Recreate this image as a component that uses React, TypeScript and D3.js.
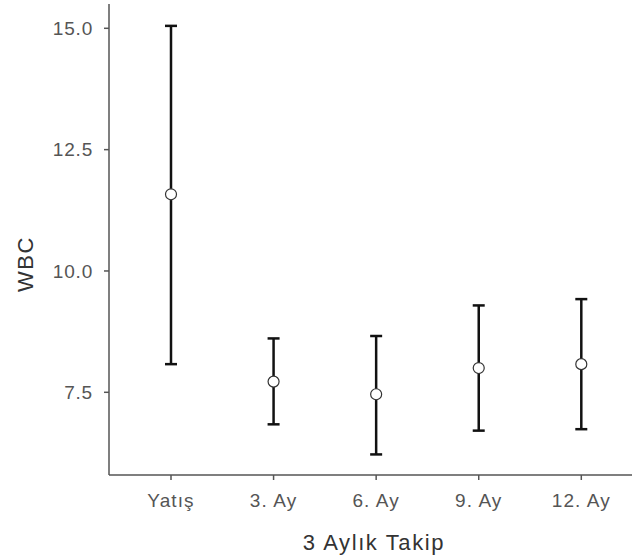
import React from "react";
import * as d3 from "d3";

const categories = ["Yatış", "3. Ay", "6. Ay", "9. Ay", "12. Ay"];
const means = [11.58, 7.72, 7.46, 8.0, 8.08];
const lowers = [8.08, 6.84, 6.22, 6.71, 6.74];
const uppers = [15.05, 8.61, 8.66, 9.29, 9.42];
const yTicks = [7.5, 10.0, 12.5, 15.0];

const W = 632;
const H = 555;
const left = 109;
const bottom = 475;
const top = 4;

export default function App() {
  const y = d3.scaleLinear().domain([7.5, 15.0]).range([392.3, 28.3]);
  const x = d3
    .scalePoint<string>()
    .domain(categories)
    .range([171, 581.3]);
  const font = "Arial, 'Liberation Sans', sans-serif";
  const cap = 6;
  return (
    <svg
      width={W}
      height={H}
      style={{ position: "absolute", left: 0, top: 0, background: "#fff" }}
      fontFamily={font}
    >
      {/* axes */}
      <line x1={left} x2={left} y1={top} y2={bottom} stroke="#555" strokeWidth={1.5} />
      <line x1={left} x2={W} y1={bottom} y2={bottom} stroke="#555" strokeWidth={1.5} />
      {yTicks.map((t) => (
        <g key={t}>
          <line x1={left - 5} x2={left} y1={y(t)} y2={y(t)} stroke="#555" strokeWidth={1.5} />
          <text x={left - 16} y={y(t)} dy="0.36em" textAnchor="end" fontSize={19} letterSpacing={0.8} fill="#555">
            {t.toFixed(1)}
          </text>
        </g>
      ))}
      {categories.map((c) => (
        <g key={c}>
          <line x1={x(c)} x2={x(c)} y1={bottom} y2={bottom + 5} stroke="#555" strokeWidth={1.5} />
          <text x={x(c)} y={506.5} textAnchor="middle" fontSize={19} letterSpacing={1.1} fill="#555">
            {c}
          </text>
        </g>
      ))}
      <text x={374} y={550} textAnchor="middle" fontSize={22} letterSpacing={1.6} fill="#333">
        3 Aylık Takip
      </text>
      <text
        transform={`translate(33, 264) rotate(-90)`}
        textAnchor="middle"
        fontSize={22}
        letterSpacing={1.6}
        fill="#333"
      >
        WBC
      </text>
      {/* error bars */}
      {categories.map((c, i) => {
        const cx = x(c) as number;
        return (
          <g key={c}>
            <line x1={cx} x2={cx} y1={y(lowers[i])} y2={y(uppers[i])} stroke="#111" strokeWidth={2.5} />
            <line x1={cx - cap} x2={cx + cap} y1={y(lowers[i])} y2={y(lowers[i])} stroke="#111" strokeWidth={2.5} />
            <line x1={cx - cap} x2={cx + cap} y1={y(uppers[i])} y2={y(uppers[i])} stroke="#111" strokeWidth={2.5} />
            <circle cx={cx} cy={y(means[i])} r={5.5} fill="#fff" stroke="#333" strokeWidth={1.2} />
          </g>
        );
      })}
    </svg>
  );
}
